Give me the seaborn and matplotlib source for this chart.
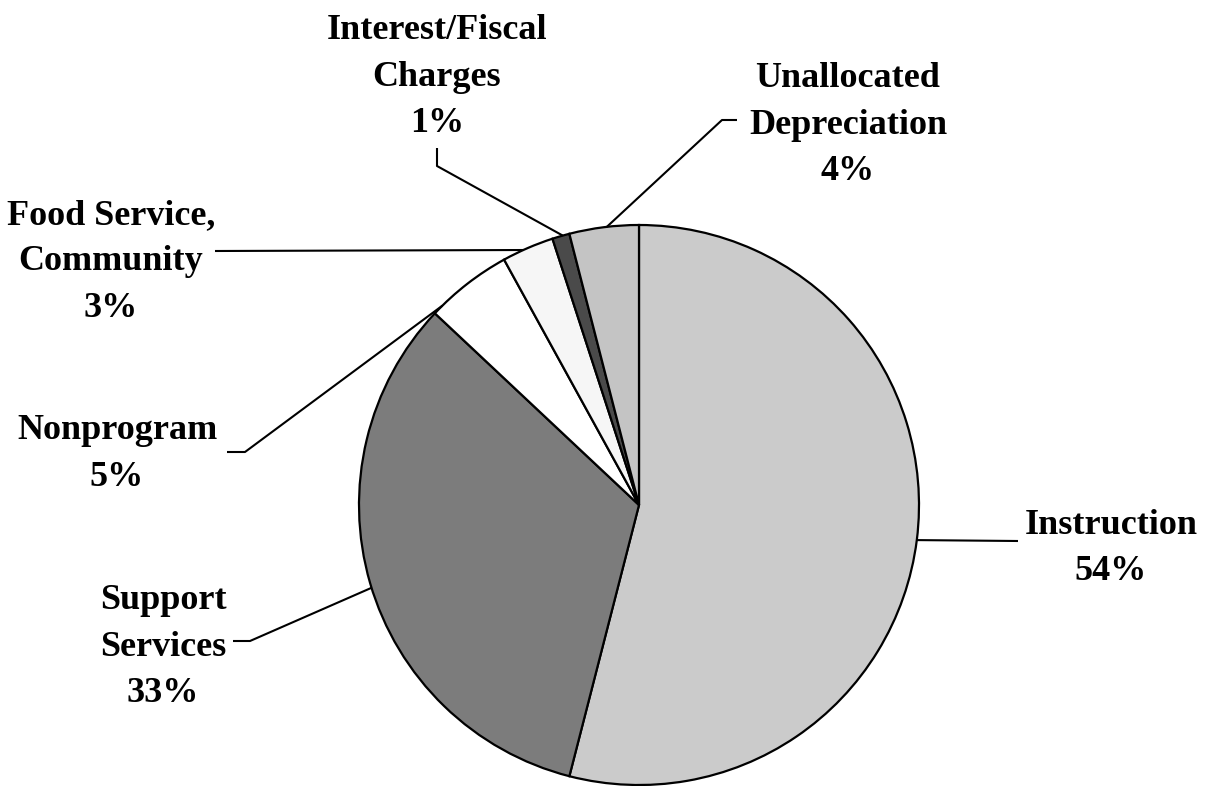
import matplotlib
matplotlib.use("Agg")
import matplotlib.pyplot as plt
import numpy as np
import seaborn as sns

sns.set_theme(style="white")
plt.rcParams["font.family"] = ["Liberation Serif", "DejaVu Serif"]

# ---- data (clockwise from 12 o'clock) ---------------------------------------
categories = ["Instruction", "Support\nServices", "Nonprogram",
              "Food Service,\nCommunity", "Interest/Fiscal\nCharges",
              "Unallocated\nDepreciation"]
shares = [54, 33, 5, 3, 1, 4]
colors = ["#cbcbcb", "#7c7c7c", "#ffffff", "#f6f6f6", "#4a4a4a", "#c4c4c4"]

# ---- layout in image pixels (x right, y down) -------------------------------
W, H = 1212, 786
CX, CY, R = 639, 505, 280
# text centre x, first baseline y, anchor-angle nudge (deg), leader knee points
layout = {
    "Instruction":                 (1111, 534, 0.0, [(1018, 541)]),
    "Support\nServices":           (163, 609, 1.0, [(250, 641), (233, 641)]),
    "Nonprogram":                  (117, 439, 6.8, [(245, 452), (227, 452)]),
    "Food Service,\nCommunity":    (111, 224, 1.0, [(215, 251)]),
    "Interest/Fiscal\nCharges":    (437, 39, -0.4, [(437, 166), (437, 148)]),
    "Unallocated\nDepreciation":   (848, 87, -0.6, [(722, 120), (737, 120)]),
}
LINE_GAP = 46.5


def fy(y):
    return H - y


fig = plt.figure(figsize=(W / 100, H / 100), dpi=100)
ax = fig.add_axes([0, 0, 1, 1])
wedges, _ = ax.pie(shares, colors=colors, startangle=90, counterclock=False,
                   center=(CX, fy(CY)), radius=R,
                   wedgeprops=dict(edgecolor="black", linewidth=1.6))
ax.set_xlim(0, W)
ax.set_ylim(0, H)
ax.set_aspect("equal")
ax.axis("off")

for w, lab, val in zip(wedges, categories, shares):
    tx, ty, nudge, knees = layout[lab]
    ang = np.deg2rad((w.theta1 + w.theta2) / 2 + nudge)
    ex, ey = CX + R * np.cos(ang), CY - R * np.sin(ang)
    xs = [ex] + [k[0] for k in knees]
    ys = [fy(ey)] + [fy(k[1]) for k in knees]
    ax.plot(xs, ys, color="black", lw=1.5, solid_capstyle="butt")
    lines = lab.split("\n") + [f"{val}%"]
    for i, t in enumerate(lines):
        ax.text(tx, fy(ty + i * LINE_GAP), t, ha="center", va="baseline",
                fontsize=26, fontweight="bold", color="black")

fig.savefig("out.png", dpi=100, facecolor="white")
